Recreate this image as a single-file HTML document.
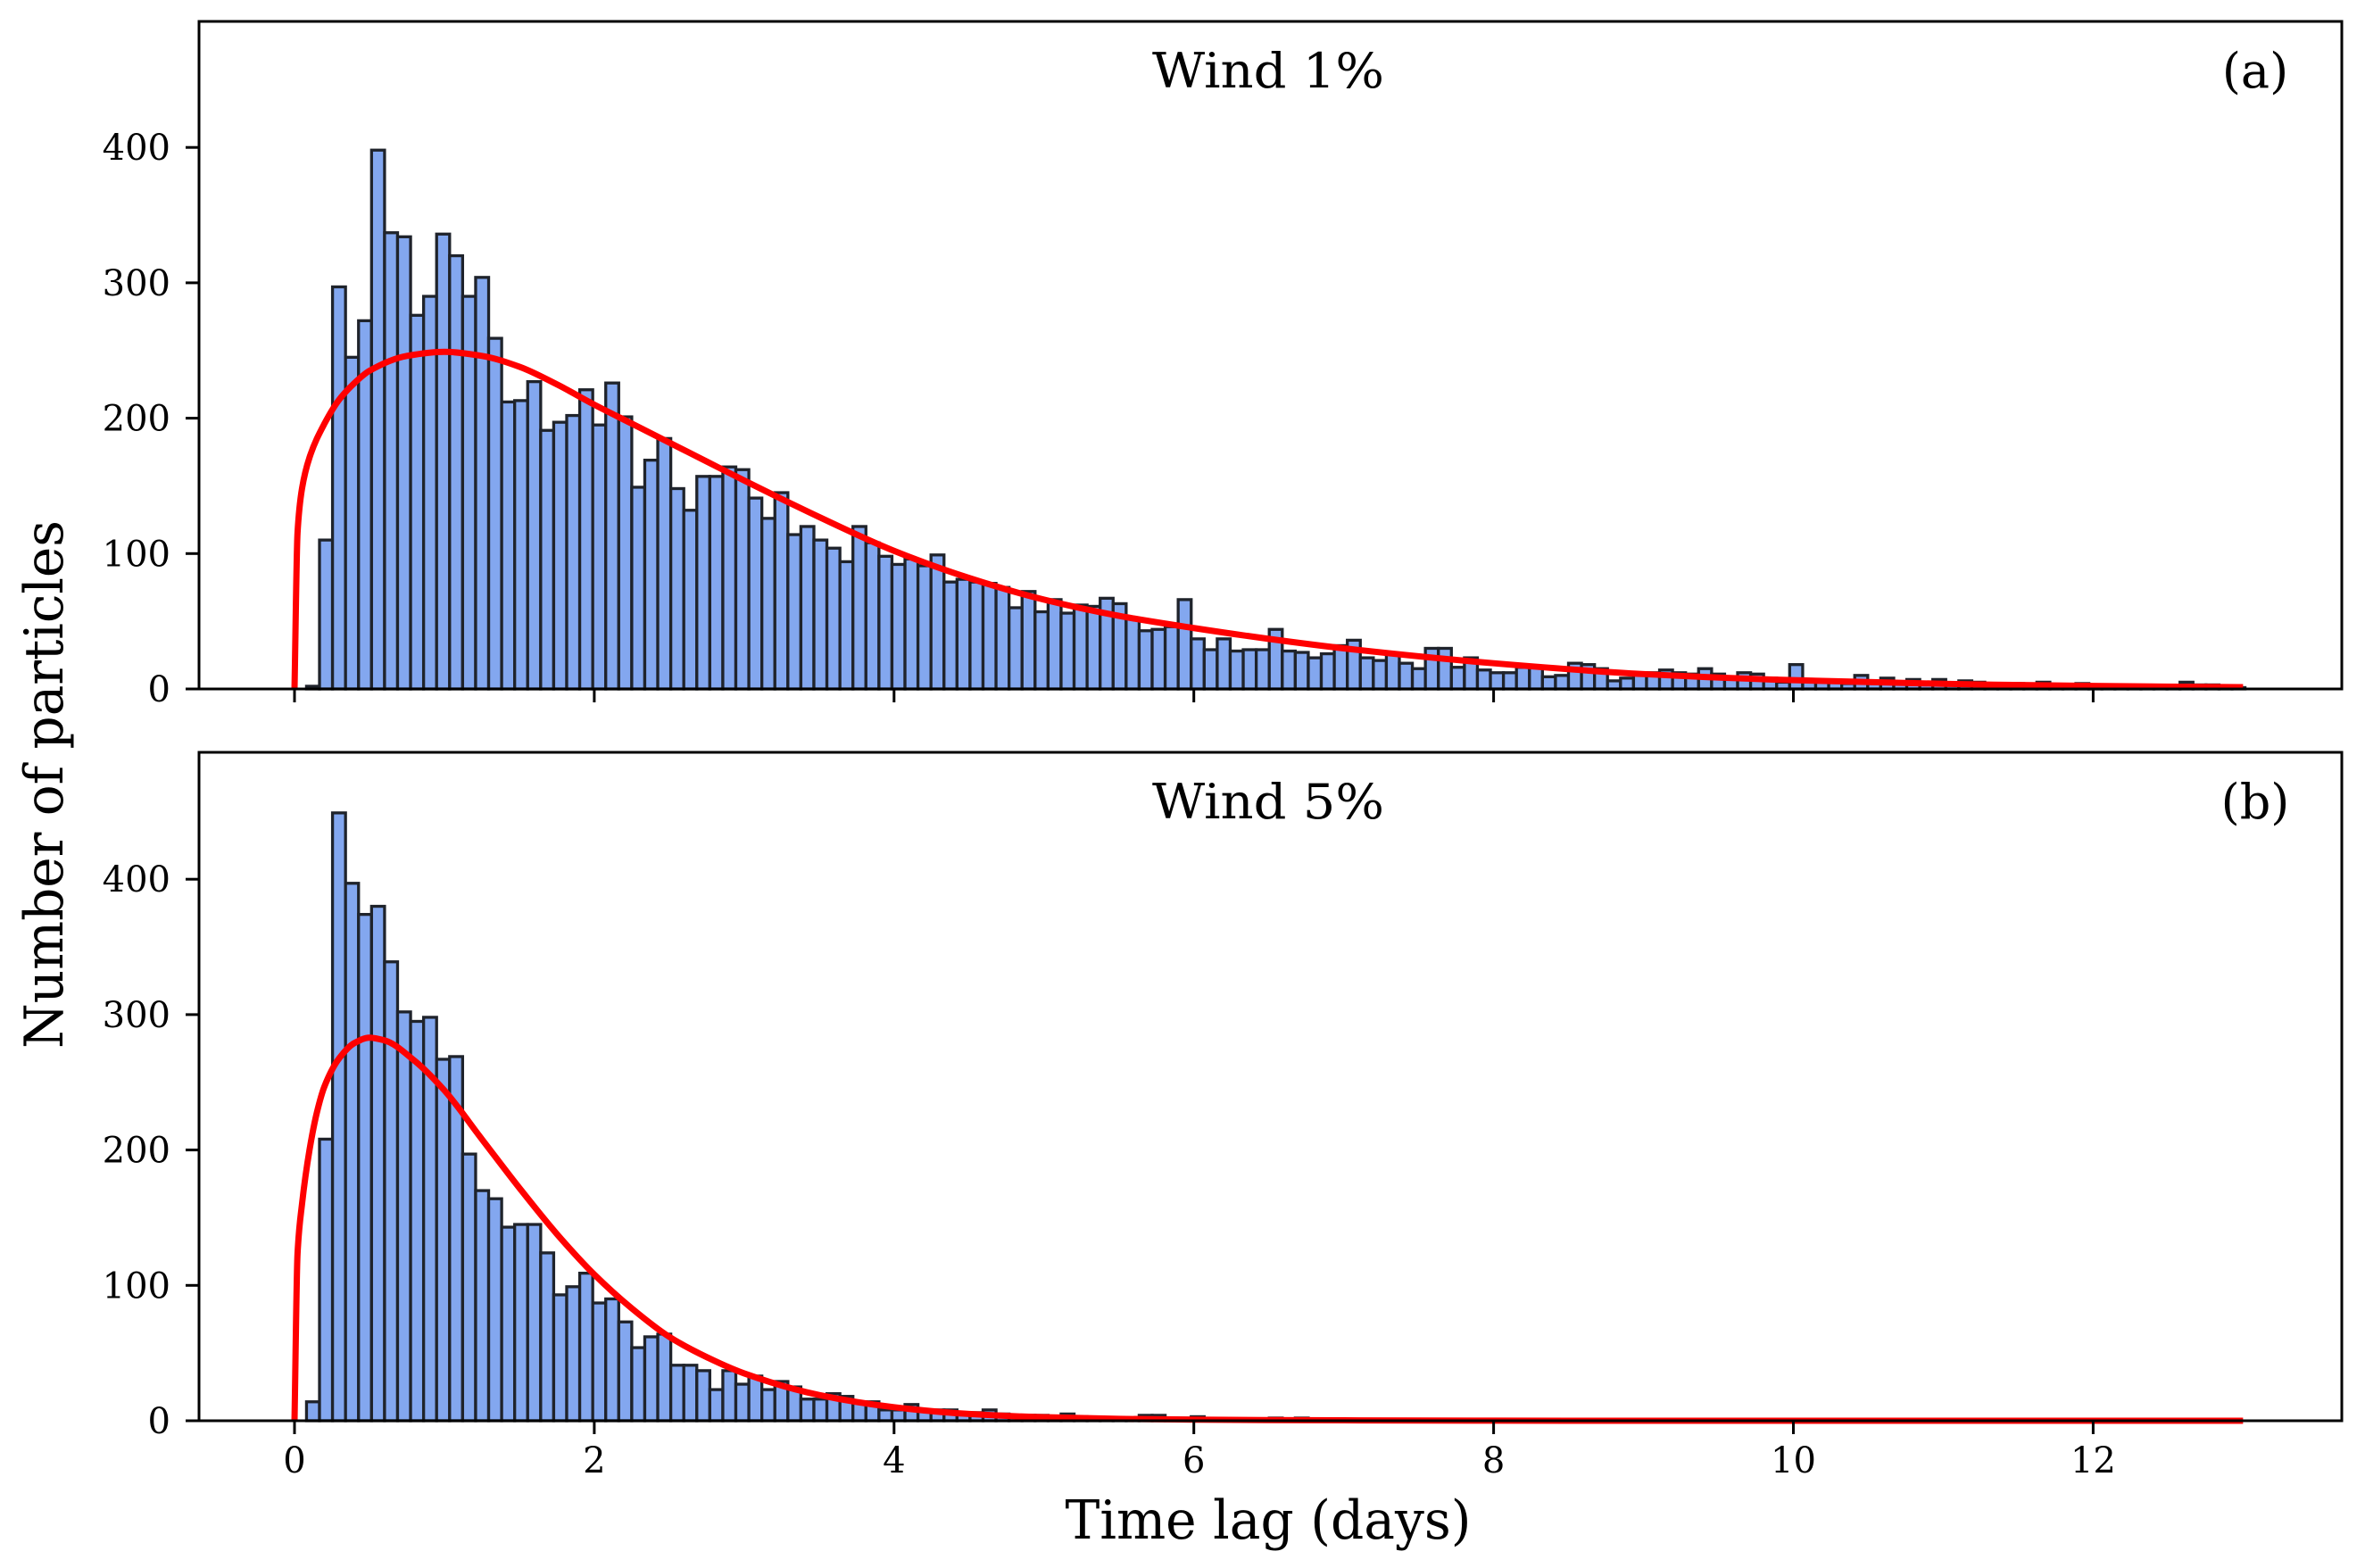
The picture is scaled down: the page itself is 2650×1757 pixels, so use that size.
<!DOCTYPE html>
<html><head><meta charset="utf-8"><style>
html,body{margin:0;padding:0;background:#fff;}
svg{display:block;}
text{font-family:"DejaVu Serif","Liberation Serif",serif;fill:#000;}
</style></head>
<body>
<svg id="chart" width="2650" height="1757" viewBox="0 0 2650 1757" xmlns="http://www.w3.org/2000/svg">
<rect x="0" y="0" width="2650" height="1757" fill="#fff"/>
</svg>
<script>
const binStart = 0.08;
const binWidth = 0.0868;
const countsWind1 = [2,110,297,245,272,398,337,334,276,290,336,320,290,304,259,212,213,227,191,197,202,221,195,226,201,149,169,185,148,132,157,157,164,162,141,126,145,114,120,110,104,94,120,108,98,92,96,91,99,79,81,79,
78,75,60,72,57,66,56,62,61,67,63,52,43,44,46,66,37,29,37,28,29,29,44,28,27,23,26,32,36,23,21,26,19,15,30,30,16,23,14,12,12,16,16,9,10,19,18,15,6,8,12,12,14,
12,11,15,11,9,12,11,8,5,18,7,6,5,4,10,4,8,4,7,4,7,4,6,5,3,4,4,3,5,2,2,4,2,1,1,2,2,1,2,5,3,3,1,1,0];
const countsWind5 = [14,208,449,397,374,380,339,302,295,298,267,269,197,170,164,143,145,145,124,93,99,109,87,90,73,54,62,64,41,41,37,23,37,27,33,23,29,25,16,16,20,18,14,14,8,8,12,8,8,8,
6,6,8,5,4,4,4,3,5,3,2,2,2,2,4,4,2,2,3,1,1,1,1,1,2,1,2,1,0,1,0,0,1,
0,0,0,0,0,0,0,0,0,0,0,0,0,0,0,0,0,0,0,0,0,0,0,0,0,0,0,0,0,0,0,0,0,0,
0,0,0,0,0,0,0,0,0,0,0,0,0,0,0,0,0,0,0,0,0,0,0,0,0,0,0,0,0,0,0,0,0];
const fitXWind1 = [0,0.02,0.05,0.1,0.2,0.3,0.4,0.5,0.75,1.0,1.25,1.5,1.75,2,2.25,2.5,2.75,3,3.5,4,4.5,5,5.5,6,6.5,7,8,9,10,11,12,13];
const fitYWind1 = [0,115,148,171,196,214,226,235,246,249,246,238,225,210,196,182,168,154,127,102,82,66,54,45,37,30,19,11,6.5,3.8,2.2,1.3];
const fitXWind5 = [0,0.02,0.05,0.1,0.15,0.2,0.3,0.4,0.5,0.6,0.8,1.0,1.25,1.5,1.75,2,2.25,2.5,2.75,3,3.5,4,4.5,5,5.5,6,7,8,9,10,11,12,13];
const fitYWind5 = [0,123,160,200,228,247,268,279,283,281,266,244,208,172,138,108,83,62,47,35,19,10,5,2.6,1.4,0.8,0.3,0.1,0,0,0,0,0];
const yTicks = [0,100,200,300,400];
const xTicks = [0,2,4,6,8,10,12];
const xTickLabels = ["0","2","4","6","8","10","12"];

const NS = "http://www.w3.org/2000/svg";
const svg = document.getElementById('chart');
const AX_L = 223, AX_R = 2624;
const X0 = 330, PX_PER_DAY = 167.95;
const PX_PER_UNIT = 1.517;
function xScale(d){ return X0 + d*PX_PER_DAY; }
function mk(tag, attrs){ const e=document.createElementNS(NS,tag); for(const k in attrs) e.setAttribute(k,attrs[k]); return e; }

// monotone cubic (Fritsch-Carlson) path through data points
function curvePath(xs, ys, yScale){
  const px = xs.map(xScale), py = ys.map(yScale), n = px.length;
  const dx=[], m=[];
  for(let i=0;i<n-1;i++){ dx.push(px[i+1]-px[i]); m.push((py[i+1]-py[i])/dx[i]); }
  const t=[m[0]];
  for(let i=1;i<n-1;i++){
    if(m[i-1]*m[i]<=0) t.push(0);
    else { const w1=2*dx[i]+dx[i-1], w2=dx[i]+2*dx[i-1]; t.push((w1+w2)/(w1/m[i-1]+w2/m[i])); }
  }
  t.push(m[n-2]);
  let d = "M"+px[0].toFixed(2)+","+py[0].toFixed(2);
  for(let i=0;i<n-1;i++){
    const h=dx[i]/3;
    d += " C"+(px[i]+h).toFixed(2)+","+(py[i]+t[i]*h).toFixed(2)+" "+(px[i+1]-h).toFixed(2)+","+(py[i+1]-t[i+1]*h).toFixed(2)+" "+px[i+1].toFixed(2)+","+py[i+1].toFixed(2);
  }
  return d;
}

function panel(name, top, bottom, counts, fitX, fitY, title, letter, showXLabels){
  const g = mk('g',{});
  
  
  svg.appendChild(g);
  const yScale = v => bottom - v*PX_PER_UNIT;
  const bars = mk('g',{});
  
  
  g.appendChild(bars);
  counts.forEach((c,i)=>{
    if(c<=0) return;
    const x1 = xScale(binStart+i*binWidth), x2 = xScale(binStart+(i+1)*binWidth);
    const r = mk('rect',{x:x1.toFixed(2), y:yScale(c).toFixed(2), width:(x2-x1).toFixed(2), height:(bottom-yScale(c)).toFixed(2), fill:'#83a7ef', stroke:'#1f232b', 'stroke-width':'3.3'});
    
    
    bars.appendChild(r);
  });
  const p = mk('path',{d:curvePath(fitX, fitY, yScale), fill:'none', stroke:'#ff0000', 'stroke-width':'7', 'stroke-linejoin':'round'});
  
  
  g.appendChild(p);
  const f = mk('rect',{x:AX_L, y:top, width:AX_R-AX_L, height:bottom-top, fill:'none', stroke:'#000', 'stroke-width':'3'});
  
  
  g.appendChild(f);
  yTicks.forEach(v=>{
    const y = yScale(v);
    const t = mk('line',{x1:AX_L-15, x2:AX_L, y1:y, y2:y, stroke:'#000', 'stroke-width':'3'});
    
    
    g.appendChild(t);
    const tx = mk('text',{x:191, y:y+14, 'text-anchor':'end', 'font-size':'40'});
    tx.textContent = String(v);
    
    
    g.appendChild(tx);
  });
  xTicks.forEach((v,i)=>{
    const x = xScale(v);
    const t = mk('line',{x1:x, x2:x, y1:bottom, y2:bottom+15, stroke:'#000', 'stroke-width':'3'});
    
    
    g.appendChild(t);
    if(showXLabels){
      const tx = mk('text',{x:x, y:bottom+58, 'text-anchor':'middle', 'font-size':'40'});
      tx.textContent = xTickLabels[i];
      
      
      g.appendChild(tx);
    }
  });
  const tt = mk('text',{x:1421, y:top+74, 'text-anchor':'middle', 'font-size':'54', textLength:'260', lengthAdjust:'spacingAndGlyphs'});
  tt.textContent = title;
  
  
  g.appendChild(tt);
  const lt = mk('text',{x:2527, y:top+74, 'text-anchor':'middle', 'font-size':'54'});
  lt.textContent = letter;
  
  
  g.appendChild(lt);
}

panel('panel-wind-1', 24, 772, countsWind1, fitXWind1, fitYWind1, 'Wind 1%', '(a)', false);
panel('panel-wind-5', 843, 1592, countsWind5, fitXWind5, fitYWind5, 'Wind 5%', '(b)', true);

const xl = mk('text',{x:1421, y:1724, 'text-anchor':'middle', 'font-size':'60', textLength:'455', lengthAdjust:'spacingAndGlyphs'});
xl.textContent = 'Time lag (days)';


svg.appendChild(xl);
const yl = mk('text',{x:0, y:0, 'text-anchor':'middle', 'font-size':'60', textLength:'592', lengthAdjust:'spacingAndGlyphs', transform:'translate(70,879) rotate(-90)'});
yl.textContent = 'Number of particles';


svg.appendChild(yl);
</script>
</body></html>
